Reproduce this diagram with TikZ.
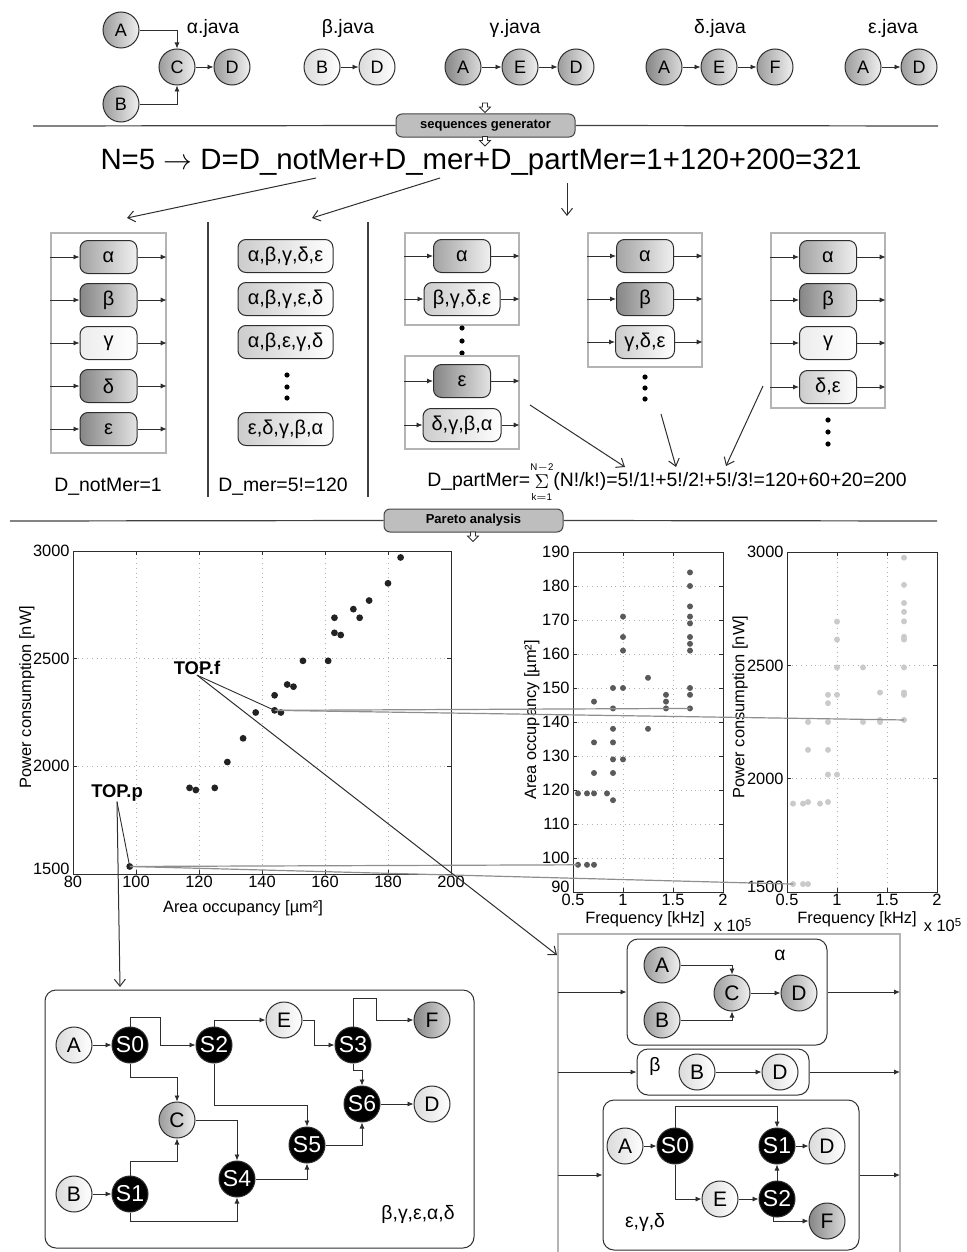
\documentclass[tikz,border=0pt]{standalone}
\usepackage{fontspec}
\setmainfont{Liberation Sans}
\usetikzlibrary{positioning,calc,arrows.meta}
\definecolor{inkgrey}{HTML}{2E2E2E}
\definecolor{framegrey}{HTML}{B4B4B4}
\definecolor{dotdark}{HTML}{222222}
\definecolor{dotmid}{HTML}{5A5A5A}
\definecolor{dotlight}{HTML}{CACACA}
\definecolor{linkgrey}{HTML}{8E8E8E}
\definecolor{stagefill}{HTML}{BEBEBE}
\newcommand{\fsz}[1]{\fontsize{#1}{#1}\selectfont}
\tikzset{
  hollowdown/.pic={\draw[inkgrey, fill=white, line width=0.4pt]
    (-2.5,0) -- (2.5,0) -- (2.5,4) -- (5.5,4) -- (0,9.5) -- (-5.5,4) -- (-2.5,4) -- cycle;},
}

\begin{document}
\begin{tikzpicture}[x=0.5pt, y=-0.5pt,
  >={Latex[length=3pt,width=2.6pt]},
  wire/.style={inkgrey, line width=0.45pt},
  pointer/.style={inkgrey, line width=0.5pt, -{Straight Barb[length=3.5pt,width=5.5pt]}},
  gnode/.style={circle, draw=inkgrey, line width=0.5pt, minimum size=18pt, inner sep=0pt, font=\fsz{9}},
  gmid/.style={gnode, left color=gray!78, right color=gray!12},
  gdark/.style={gnode, left color=gray!95, right color=gray!28},
  glight/.style={gnode, left color=gray!28, right color=white},
  gstate/.style={gnode, fill=black, text=white},
  seqbox/.style={rectangle, rounded corners=4pt, draw=inkgrey, line width=0.5pt, minimum width=28.5pt, minimum height=16.5pt, inner sep=1pt, font=\fsz{10}},
  sbmid/.style={seqbox, left color=gray!72, right color=gray!12},
  sbdark/.style={seqbox, left color=gray!95, right color=gray!22},
  sblight/.style={seqbox, left color=gray!40, right color=white},
  sbpale/.style={seqbox, left color=gray!15, right color=white},
  panel/.style={draw=framegrey, line width=0.6pt, inner sep=0pt},
  stage/.style={rectangle, rounded corners=3pt, draw=gray!55!black, fill=stagefill, line width=0.5pt, minimum width=89.5pt, minimum height=11.5pt, inner sep=0pt, font=\bfseries\fsz{6.5}},
  sepline/.style={gray!50!black, line width=0.6pt},
  seqlabel/.style={font=\fsz{9.7}},
  axisframe/.style={inkgrey, line width=0.5pt},
  gridline/.style={gray!60, line width=0.35pt, dotted},
  ticklab/.style={font=\fsz{8.2}, inner sep=1pt},
  xtick/.style={ticklab, below=0pt},
  ytick/.style={ticklab, left=0.5pt},
  ybase/.style={ticklab, left=0.5pt, yshift=2.5pt},
  topmark/.style={font=\bfseries\fsz{9.2}, inner sep=0pt},
  paretoline/.style={linkgrey, line width=0.6pt},
  grpbox/.style={rectangle, rounded corners=5.5pt, draw=inkgrey, line width=0.5pt, inner sep=0pt},
  bletter/.style={font=\fsz{10.5}},
  bstate/.style={gstate, font=\fsz{11.5}},
]
\useasboundingbox (0,0) rectangle (967,1252);

% source graphs (.java)
\node[gmid] (aA) at (121,30) {A};
\node[gmid] (aC) at (177,67) {C};
\node[gmid] (aD) at (232,67) {D};
\node[gmid] (aB) at (121,104) {B};
\node[seqlabel] (ajava) at (213,28) {α.java};
\draw[wire,->] (aA) -| (aC);
\draw[wire,->] (aB) -| (aC);
\draw[wire,->] (aC) -- (aD);
\node[glight] (bB) at (322,67) {B};
\node[glight] (bD) at (377,67) {D};
\node[seqlabel] (bjava) at (348,28) {β.java};
\node[gdark] (gA) at (463,67) {A};
\node[gmid] (gE) at (520,67) {E};
\node[gmid] (gD) at (576,67) {D};
\node[seqlabel] (gjava) at (515,28) {γ.java};
\node[gdark] (dA) at (664,67) {A};
\node[gmid] (dE) at (719,67) {E};
\node[gmid] (dF) at (775,67) {F};
\node[seqlabel] (djava) at (720,28) {δ.java};
\node[gmid] (eA) at (863,67) {A};
\node[gmid] (eD) at (919,67) {D};
\node[seqlabel] (ejava) at (893,28) {ε.java};
\foreach \u/\v in {bB/bD, gA/gE, gE/gD, dA/dE, dE/dF, eA/eD}
  \draw[wire,->] (\u) -- (\v);

% stage 1
\coordinate (sepAleft) at (33,126);
\coordinate (sepAright) at (938,126);
\node[stage] (seqgen) at (485.5,125.5) {sequences generator};
\draw[sepline] (sepAleft) -- (seqgen.west);
\draw[sepline] (seqgen.east) -- (sepAright);
\pic at (485,103) {hollowdown};
\pic at (485,136.5) {hollowdown};

\node[font=\fsz{14.7}, inner sep=0pt] (total) at (481,162) {N=5 \(\rightarrow\) D=D\_notMer+D\_mer+D\_partMer=1+120+200=321};
\coordinate (notmerfoot) at (316,178);
\coordinate (notmertip) at (127,218);
\coordinate (merfoot) at (440,178);
\coordinate (mertip) at (312,218);
\coordinate (partfoot) at (567,183);
\coordinate (parttip) at (567,216);
\draw[pointer] (notmerfoot) -- (notmertip);
\draw[pointer] (merfoot) -- (mertip);
\draw[pointer] (partfoot) -- (parttip);

\draw[sepline] (208,222) -- (208,497);
\draw[sepline] (368,222) -- (368,497);

% not merged
\node[panel, minimum width=57.5pt, minimum height=110pt] (nmframe) at (108.5,343) {};
\foreach \g/\st [count=\i] in {α/sbmid, β/sbdark, γ/sbpale, δ/sbdark, ε/sbdark} {
  \node[\st] (nm\i) at (108.5,214+43*\i) {\g};
  \draw[wire,->] (nmframe.west |- nm\i) -- (nm\i);
  \draw[wire,->] (nm\i) -- (nmframe.east |- nm\i);
}
\node[seqlabel] (notmerlab) at (108,487) {D\_notMer=1};

% merged
\foreach \g [count=\i] in {{α,β,γ,δ,ε},{α,β,γ,ε,δ},{α,β,ε,γ,δ}}
  \node[sblight, minimum width=47.5pt] (mr\i) at (285.5,213+43*\i) {\g};
\foreach \y in {375,387,398} \fill (287,\y) circle[radius=1.3pt];
\node[sblight, minimum width=47.5pt] (mr4) at (285.5,429) {ε,δ,γ,β,α};
\node[seqlabel] (merlab) at (283,487) {D\_mer=5!=120};

% partially merged
\node[panel, minimum width=57pt, minimum height=46pt] (pa) at (462,279) {};
\node[sbmid] (pa1) at (462,256) {α};
\node[sblight, minimum width=38pt] (pa2) at (462,299) {β,γ,δ,ε};
\foreach \y in {328,341,353} \fill (462,\y) circle[radius=1.3pt];
\node[panel, minimum width=57pt, minimum height=46.5pt] (pb) at (462,402.5) {};
\node[sbdark] (pb1) at (462,381) {ε};
\node[sblight, minimum width=39pt] (pb2) at (462,425) {δ,γ,β,α};
\node[panel, minimum width=57pt, minimum height=67pt] (pc) at (645,300) {};
\node[sbmid] (pc1) at (645,256) {α};
\node[sbdark] (pc2) at (645,299) {β};
\node[sblight, minimum width=29.5pt] (pc3) at (645,342) {γ,δ,ε};
\foreach \y in {377,388,399} \fill (645,\y) circle[radius=1.3pt];
\node[panel, minimum width=57pt, minimum height=87.5pt] (pd) at (828,320.5) {};
\node[sbmid] (pd1) at (828,257) {α};
\node[sbdark] (pd2) at (828,300) {β};
\node[sbpale] (pd3) at (828,343) {γ};
\node[sblight] (pd4) at (828,387) {δ,ε};
\foreach \y in {420,432,444} \fill (828,\y) circle[radius=1.3pt];
\foreach \f/\b in {pa/pa1, pa/pa2, pb/pb1, pb/pb2, pc/pc1, pc/pc2, pc/pc3, pd/pd1, pd/pd2, pd/pd3, pd/pd4} {
  \draw[wire,->] (\f.west |- \b) -- (\b);
  \draw[wire,->] (\b) -- (\f.east |- \b);
}
\node[seqlabel] (partmerlab) at (667,482) {D\_partMer=\(\mathop{\Sigma}\limits_{\scriptscriptstyle\mathrm{k=1}}^{\scriptscriptstyle\mathrm{N-2}}\)(N!/k!)=5!/1!+5!/2!+5!/3!=120+60+20=200};
\coordinate (pbfoot) at (530,405);
\coordinate (pbtip) at (625,467);
\coordinate (pcfoot) at (661,414);
\coordinate (pctip) at (676,467);
\coordinate (pdfoot) at (763,386);
\coordinate (pdtip) at (726,466);
\draw[pointer] (pbfoot) -- (pbtip);
\draw[pointer] (pcfoot) -- (pctip);
\draw[pointer] (pdfoot) -- (pdtip);

% stage 2
\coordinate (sepBleft) at (10,521);
\coordinate (sepBright) at (937,521);
\node[stage] (pareto) at (473.5,520.5) {Pareto analysis};
\draw[sepline] (sepBleft) -- (pareto.west);
\draw[sepline] (pareto.east) -- (sepBright);
\pic at (473,532) {hollowdown};

% area vs power
\begin{scope}[shift={(73,874)}, x=1.575pt, y=0.107667pt]
  \foreach \v in {100,120,...,180} \draw[gridline] (\v-80,0) -- (\v-80,1500);
  \foreach \v in {2000,2500} \draw[gridline] (0,\v-1500) -- (120,\v-1500);
  \draw[axisframe] (0,0) rectangle (120,1500);
  \foreach \v in {80,100,...,200} {
    \draw[axisframe] (\v-80,0) -- ++(0,2pt) (\v-80,1500) -- ++(0,-2pt);
    \node[xtick] (apx\v) at (\v-80,0) {\v};
  }
  \node[ybase] (apy1500) at (0,0) {1500};
  \foreach \v in {2000,2500,3000} \node[ytick] (apy\v) at (0,\v-1500) {\v};
  \foreach \v in {1500,2000,2500,3000}
    \draw[axisframe] (0,\v-1500) -- ++(2pt,0) (120,\v-1500) -- ++(-2pt,0);
  \foreach \a/\p in {184/2970,180/2850,174/2770,169/2730,171/2690,163/2690,163/2620,165/2610,
    153/2490,161/2490,148/2380,150/2370,144/2330,144/2260,146/2250,138/2250,134/2130,
    129/2020,117/1900,119/1890,125/1900,98/1535}
    \fill[dotdark] (\a-80,\p-1500) circle[radius=1.7pt];
  \coordinate (lpf) at (144-80,2260-1500);
  \coordinate (lpp) at (98-80,1535-1500);
\end{scope}
\node[ticklab, rotate=90] (aptitle) at (27,697) {Power consumption [nW]};
\node[ticklab] (apxtitle) at (243,908) {Area occupancy [µm²]};

% frequency vs area
\begin{scope}[shift={(573,892)}, x=50pt, y=1.7pt]
  \foreach \v in {1,1.5} \draw[gridline] (\v-0.5,0) -- (\v-0.5,100);
  \foreach \v in {100,110,...,180} \draw[gridline] (0,\v-90) -- (1.5,\v-90);
  \draw[axisframe] (0,0) rectangle (1.5,100);
  \foreach \v [count=\i] in {0.5,1,1.5,2} {
    \draw[axisframe] (\v-0.5,0) -- ++(0,2pt) (\v-0.5,100) -- ++(0,-2pt);
    \node[xtick] (fax\i) at (\v-0.5,0) {\v};
  }
  \node[ybase] (fay90) at (0,0) {90};
  \foreach \v in {100,110,...,190} \node[ytick] (fay\v) at (0,\v-90) {\v};
  \foreach \v in {90,100,...,190}
    \draw[axisframe] (0,\v-90) -- ++(2pt,0) (1.5,\v-90) -- ++(-2pt,0);
  \foreach \f/\a in {1.67/184,1.67/180,1.67/174,1.67/171,1.67/169,1.67/165,1.67/163,1.67/161,
    1.67/150,1.67/148,1.67/144,1.43/148,1.43/146,1.43/144,1.25/153,1.25/138,
    1.0/171,1.0/165,1.0/161,1.0/150,1.0/129,0.9/150,0.9/144,0.9/138,0.9/134,0.9/129,
    0.9/125,0.9/117,0.84/119,0.71/146,0.71/134,0.71/125,0.71/119,0.71/98,
    0.64/119,0.64/98,0.55/119,0.55/98}
    \fill[dotmid] (\f-0.5,\a-90) circle[radius=1.5pt];
  \coordinate (mpf) at (1.67-0.5,144-90);
  \coordinate (mpp) at (0.55-0.5,98-90);
\end{scope}
\node[ticklab, rotate=90] (fatitle) at (532,720) {Area occupancy [µm²]};
\node[ticklab] (faxtitle) at (645,919) {Frequency [kHz]};
\node[ticklab] (faexp) at (733,925) {x 10\textsuperscript{5}};

% frequency vs power
\begin{scope}[shift={(787,892)}, x=50pt, y=0.113333pt]
  \foreach \v in {1,1.5} \draw[gridline] (\v-0.5,0) -- (\v-0.5,1500);
  \foreach \v in {2000,2500} \draw[gridline] (0,\v-1500) -- (1.5,\v-1500);
  \draw[axisframe] (0,0) rectangle (1.5,1500);
  \foreach \v [count=\i] in {0.5,1,1.5,2} {
    \draw[axisframe] (\v-0.5,0) -- ++(0,2pt) (\v-0.5,1500) -- ++(0,-2pt);
    \node[xtick] (fpx\i) at (\v-0.5,0) {\v};
  }
  \node[ybase] (fpy1500) at (0,0) {1500};
  \foreach \v in {2000,2500,3000} \node[ytick] (fpy\v) at (0,\v-1500) {\v};
  \foreach \v in {1500,2000,2500,3000}
    \draw[axisframe] (0,\v-1500) -- ++(2pt,0) (1.5,\v-1500) -- ++(-2pt,0);
  \foreach \f/\p in {1.67/2975,1.67/2855,1.67/2775,1.67/2736,1.67/2694,1.67/2626,1.67/2614,
    1.67/2491,1.67/2380,1.67/2370,1.67/2259,1.43/2380,1.43/2259,1.43/2250,1.26/2491,1.26/2250,
    1.0/2693,1.0/2614,1.0/2491,1.0/2370,1.0/2018,0.91/2370,0.91/2333,0.91/2250,0.91/2127,
    0.91/2018,0.91/1897,0.83/1890,0.71/2250,0.71/2127,0.71/1897,0.71/1535,
    0.66/1890,0.66/1535,0.56/1890,0.56/1535}
    \fill[dotlight] (\f-0.5,\p-1500) circle[radius=1.5pt];
  \coordinate (rpf) at (1.67-0.5,2259-1500);
  \coordinate (rpp) at (0.56-0.5,1535-1500);
\end{scope}
\node[ticklab, rotate=90] (fptitle) at (740,707) {Power consumption [nW]};
\node[ticklab] (fpxtitle) at (857,919) {Frequency [kHz]};
\node[ticklab] (fpexp) at (943,925) {x 10\textsuperscript{5}};

% chosen points
\draw[paretoline] (lpf) -- (mpf);
\draw[paretoline] (lpf) -- (rpf);
\draw[paretoline] (lpp) -- (mpp);
\draw[paretoline] (lpp) -- (rpp);
\node[topmark] (topf) at (197,668) {TOP.f};
\node[topmark] (topp) at (117,793) {TOP.p};
\coordinate (brtip) at (557,955);
\coordinate (bltip) at (120,987);
\draw[wire] (topf.south) -- (lpf);
\draw[pointer] (topf.south) -- (brtip);
\draw[wire] (topp.south) -- (lpp);
\draw[pointer] (topp.south) -- (bltip);

% TOP.p: fully merged schedule
\node[grpbox, minimum width=214.5pt, minimum height=129pt] (blframe) at (259.5,1119) {};
\node[glight, bletter] (blA) at (74,1045) {A};
\node[bstate] (blS0) at (130,1045) {S0};
\node[bstate] (blS2) at (214,1045) {S2};
\node[glight, bletter] (blE) at (284,1020) {E};
\node[bstate] (blS3) at (353,1045) {S3};
\node[gdark, bletter] (blF) at (432,1020) {F};
\node[bstate] (blS6) at (362,1104) {S6};
\node[glight, bletter] (blD) at (432,1104) {D};
\node[gmid, bletter] (blC) at (177,1120) {C};
\node[bstate] (blS5) at (307,1145) {S5};
\node[bstate] (blS4) at (237,1179) {S4};
\node[glight, bletter] (blB) at (74,1194) {B};
\node[bstate] (blS1) at (130,1194) {S1};
\node[seqlabel] (bllab) at (418,1214) {β,γ,ε,α,δ};
\draw[wire,->] (blA) -- (blS0);
\draw[wire,->] (blB) -- (blS1);
\draw[wire,->] (blS0.north) -- ++(0,-9) -| (160,1045) -- (blS2.west);
\draw[wire,->] (blS0.south) -- ++(0,14) -| (blC.north);
\draw[wire,->] (blS2.north) |- (blE.west);
\draw[wire,->] (blS2.south) -- ++(0,42) -| (blS5.north);
\draw[wire,->] (blE.east) -- ++(12,0) |- (blS3.west);
\draw[wire,->] (blS3.north) -- ++(0,-28) -| (376,1020) -- (blF.west);
\draw[wire,->] (blS3.south) -- ++(0,7) -| (blS6.north);
\draw[wire,->] (blS6) -- (blD);
\draw[wire,->] (blC.east) -| (blS4.north);
\draw[wire,->] (blS1.north) -- ++(0,-14) -| (blC.south);
\draw[wire,->] (blS1.south) -- ++(0,9) -| (blS4.south);
\draw[wire,->] (blS4.east) -| (blS5.south);
\draw[wire,->] (blS5.east) -| (blS6.south);

% TOP.f: partially merged schedule
\coordinate (brnw) at (558,934);
\coordinate (brne) at (900,934);
\draw[panel] (558,1256) -- (brnw) -- (brne) -- (900,1256);
\node[grpbox, minimum width=100pt, minimum height=53pt] (bra) at (727,992) {};
\node[gmid, bletter] (braA) at (662,965) {A};
\node[gmid, bletter] (braB) at (662,1020) {B};
\node[gmid, bletter] (braC) at (732,993) {C};
\node[gmid, bletter] (braD) at (799,993) {D};
\node[seqlabel] (bralab) at (780,955) {α};
\draw[wire,->] (braA) -| (braC);
\draw[wire,->] (braB) -| (braC);
\draw[wire,->] (braC) -- (braD);
\node[grpbox, minimum width=86pt, minimum height=23pt] (brb) at (723,1072) {};
\node[glight, bletter] (brbB) at (697,1072) {B};
\node[glight, bletter] (brbD) at (780,1072) {D};
\node[seqlabel] (brblab) at (655,1066) {β};
\draw[wire,->] (brbB) -- (brbD);
\node[grpbox, minimum width=128pt, minimum height=75pt] (brc) at (731,1175) {};
\node[glight, bletter] (brcA) at (625,1146) {A};
\node[bstate] (brcS0) at (675,1146) {S0};
\node[bstate] (brcS1) at (777,1146) {S1};
\node[glight, bletter] (brcD) at (827,1146) {D};
\node[glight, bletter] (brcE) at (720,1199) {E};
\node[bstate] (brcS2) at (777,1199) {S2};
\node[gdark, bletter] (brcF) at (827,1221) {F};
\node[seqlabel] (brclab) at (645,1222) {ε,γ,δ};
\draw[wire,->] (brcA) -- (brcS0);
\draw[wire,->] (brcS0.north) -- ++(0,-21) -| (brcS1.north);
\draw[wire,->] (brcS0.south) |- (brcE.west);
\draw[wire,->] (brcE) -- (brcS2);
\draw[wire,->] (brcS2) -- (brcS1);
\draw[wire,->] (brcS1) -- (brcD);
\draw[wire,->] (brcS2.-100) |- (brcF.west);
\foreach \g in {bra,brb,brc} {
  \draw[wire,->] (brnw |- \g.west) -- (\g.west);
  \draw[wire,->] (\g.east) -- (brne |- \g.east);
}
\end{tikzpicture}
\end{document}
